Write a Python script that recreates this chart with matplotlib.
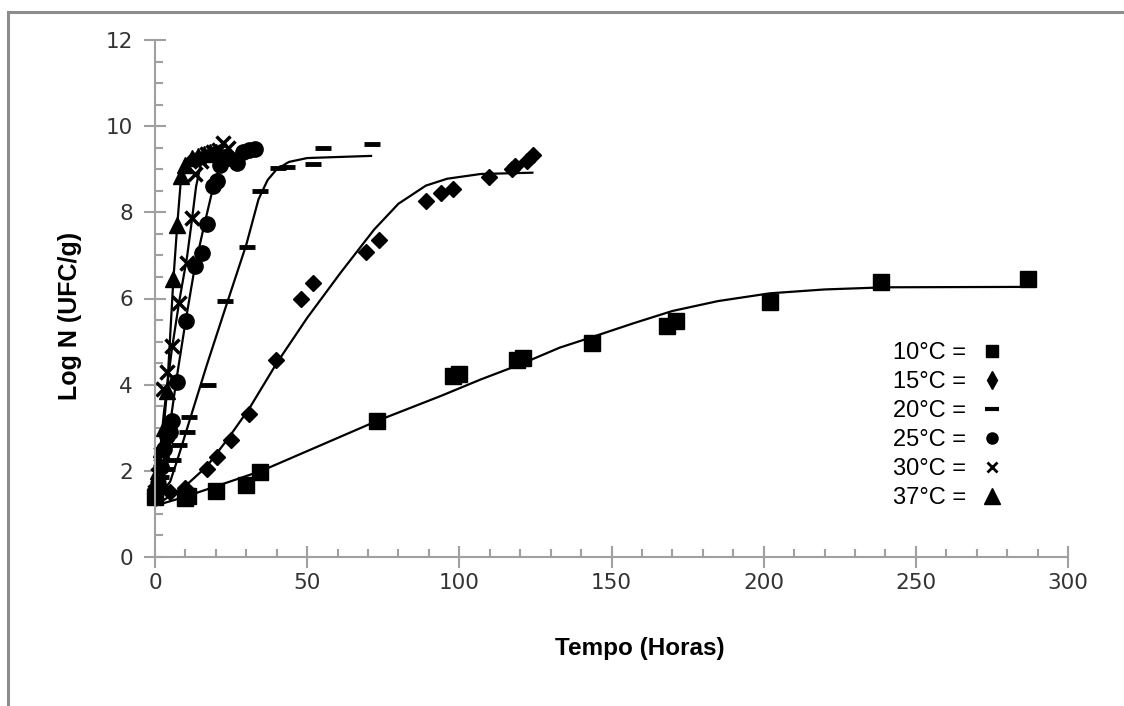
import matplotlib
matplotlib.use("Agg")
import matplotlib.pyplot as plt
from matplotlib.lines import Line2D
from matplotlib.patches import Rectangle

t10 = [0, 10, 11, 20, 30, 34.5, 73, 98, 100, 119, 121, 143.5, 168.4, 171.2, 202, 238.5, 287]
y10 = [1.40, 1.38, 1.42, 1.53, 1.68, 1.98, 3.16, 4.19, 4.24, 4.58, 4.63, 4.97, 5.36, 5.47, 5.91, 6.39, 6.45]

t15 = [0, 5, 10, 17, 20.3, 24.9, 31, 39.8, 48, 52, 69.3, 73.7, 89.1, 94, 98, 109.9, 117.2, 118.3, 122.1, 124.3]
y15 = [1.40, 1.50, 1.60, 2.04, 2.33, 2.72, 3.31, 4.57, 5.99, 6.35, 7.07, 7.36, 8.27, 8.46, 8.55, 8.83, 9.00, 9.07, 9.18, 9.34]

t20 = [0, 2, 4, 6, 8, 10.4, 11.3, 17.5, 23, 30.1, 34.5, 40.5, 43.5, 52, 55.3, 71.2]
y20 = [1.55, 1.85, 2.05, 2.25, 2.60, 2.90, 3.25, 4.00, 5.95, 7.20, 8.49, 9.04, 9.06, 9.12, 9.50, 9.59]

t25 = [0, 1, 2, 3, 4, 5, 5.5, 7.3, 10.2, 13.1, 15.3, 17, 19.2, 20.3, 21.5, 24, 27, 29, 31, 33]
y25 = [1.40, 1.70, 2.10, 2.50, 2.80, 2.90, 3.16, 4.06, 5.47, 6.75, 7.06, 7.74, 8.60, 8.72, 9.10, 9.25, 9.15, 9.40, 9.45, 9.48]

t30 = [0, 1, 2, 2.7, 4, 5.5, 8, 10.4, 12, 13.1, 15, 17, 19, 21, 22.4, 24]
y30 = [1.50, 1.90, 2.40, 3.89, 4.30, 4.90, 5.90, 6.83, 7.87, 8.90, 9.20, 9.35, 9.40, 9.45, 9.60, 9.50]

t37 = [0, 1, 2, 3, 4, 6, 7.3, 8.5, 10, 12, 14, 16, 18, 20]
y37 = [1.50, 2.00, 2.50, 3.00, 3.85, 6.45, 7.70, 8.85, 9.10, 9.25, 9.30, 9.35, 9.40, 9.40]

# ── Curvas ajustadas ─────────────────────────────────────────────
fit10_t = [0, 10, 35, 73, 94, 107, 120, 133, 143, 157, 170, 185, 202, 220, 240, 289]
fit10_y = [1.19, 1.40, 2.00, 3.16, 3.74, 4.12, 4.47, 4.86, 5.09, 5.42, 5.71, 5.94, 6.12, 6.21, 6.26, 6.27]

fit15_t = [0, 10, 17, 24, 31, 40, 50, 61, 72, 80, 89, 96, 107, 124]
fit15_y = [1.19, 1.65, 2.10, 2.75, 3.45, 4.50, 5.55, 6.60, 7.60, 8.20, 8.62, 8.78, 8.89, 8.92]

fit20_t = [0, 5, 8, 11.5, 17, 23, 30, 34, 37, 40, 44, 50, 71]
fit20_y = [1.30, 1.75, 2.40, 3.20, 4.45, 5.75, 7.25, 8.30, 8.75, 9.00, 9.17, 9.26, 9.31]

fit25_t = [0, 3, 5, 7, 10, 13, 16, 18.5, 20.5, 23, 26, 33]
fit25_y = [1.30, 2.30, 3.10, 4.10, 5.45, 6.70, 7.65, 8.40, 8.90, 9.20, 9.30, 9.32]

fit30_t = [0, 3, 5.5, 8, 10.5, 12, 13.5, 15, 17, 24]
fit30_y = [1.30, 3.40, 4.80, 5.95, 6.95, 7.75, 8.60, 9.10, 9.30, 9.40]

fit37_t = [0, 2, 4, 6, 7.3, 8.5, 10, 12, 24]
fit37_y = [1.30, 2.30, 3.90, 6.40, 7.70, 8.75, 9.20, 9.35, 9.45]

legendas = ["10°C =", "15°C =", "20°C =", "25°C =", "30°C =", "37°C ="]

cinza = "#a0a0a0"

fig = plt.figure(figsize=(11.24, 7.06), dpi=100)
ax = fig.add_axes([155 / 1124, 1 - 557 / 706, 913 / 1124, 517 / 706])

# linhas de ajuste
for ft, fy in [(fit10_t, fit10_y), (fit15_t, fit15_y), (fit20_t, fit20_y),
               (fit25_t, fit25_y), (fit30_t, fit30_y), (fit37_t, fit37_y)]:
    ax.plot(ft, fy, color="black", lw=1.6, clip_on=False)

# pontos
ax.plot(t10, y10, ls="none", marker="s", ms=11.5, color="black", clip_on=False)
ax.plot(t15, y15, ls="none", marker="D", ms=8.5, color="black", clip_on=False)
ax.plot(t20, y20, ls="none", marker="_", ms=11, mew=3.5, color="black", clip_on=False)
ax.plot(t25, y25, ls="none", marker="o", ms=11, color="black", clip_on=False)
ax.plot(t30, y30, ls="none", marker="x", ms=10, mew=2.5, color="black", clip_on=False)
ax.plot(t37, y37, ls="none", marker="^", ms=11, color="black", clip_on=False)

ax.set_xlim(0, 300)
ax.set_ylim(0, 12)
ax.set_xticks(range(0, 301, 50))
ax.set_xticks(range(0, 301, 10), minor=True)
ax.set_yticks(range(0, 13, 2))
ax.set_yticks([i * 0.5 for i in range(25)], minor=True)

for s in ["top", "right"]:
    ax.spines[s].set_visible(False)
for s in ["left", "bottom"]:
    ax.spines[s].set_color(cinza)
    ax.spines[s].set_linewidth(1.5)

ax.tick_params(which="major", direction="inout", length=16, width=1.5, color=cinza,
               labelsize=15.5, labelcolor="#333333")
ax.tick_params(which="minor", direction="in", length=6, width=1.5, color=cinza)
ax.tick_params(axis="x", which="major", pad=3.5)
ax.tick_params(axis="y", which="major", pad=8)

ax.set_xlabel("Tempo (Horas)", fontfamily="Liberation Sans", fontweight="bold", fontsize=17.5)
ax.set_ylabel("Log N (UFC/g)", fontfamily="Liberation Sans", fontweight="bold", fontsize=18)
ax.xaxis.set_label_coords((640 - 155) / 913, -(648 - 557) / 517)
ax.xaxis.label.set_va("center")
ax.yaxis.set_label_coords(-(155 - 70) / 913, (557 - 316) / 517)
ax.yaxis.label.set_va("center")

# legenda
handles = [
    Line2D([], [], ls="none", marker="s", ms=8.5, color="black"),
    Line2D([], [], ls="none", marker="d", ms=9, color="black"),
    Line2D([], [], ls="none", marker="_", ms=10, mew=3, color="black"),
    Line2D([], [], ls="none", marker="o", ms=8, color="black"),
    Line2D([], [], ls="none", marker="x", ms=7, mew=2, color="black"),
    Line2D([], [], ls="none", marker="^", ms=12, color="black"),
]
ax.legend(handles, legendas, loc="upper left", frameon=False, markerfirst=False,
          bbox_to_anchor=(893 / 1124, 1 - 342 / 706), bbox_transform=fig.transFigure,
          borderpad=0, borderaxespad=0, handlelength=1.0, handletextpad=0.6,
          labelspacing=0.3, prop={"family": "Liberation Sans", "size": 17})

# moldura cinza da figura
fig.add_artist(Rectangle((8 / 1124, -0.2), 1.5, (1 - 12 / 706) + 0.2, transform=fig.transFigure,
                         fill=False, ec="#8c8c8c", lw=2.2))

fig.savefig("out.png", dpi=100)
